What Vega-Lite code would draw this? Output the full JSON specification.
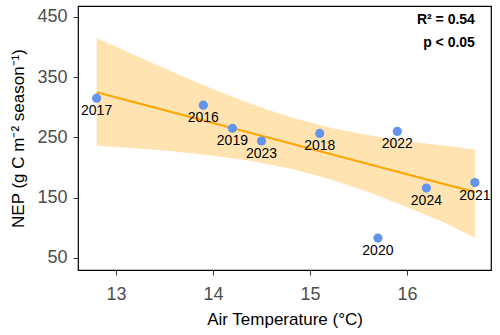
{
  "$schema": "https://vega.github.io/schema/vega-lite/v6.json",
  "width": 413,
  "height": 264,
  "autosize": {"type": "none"},
  "padding": {"left": 78, "top": 6, "right": 9, "bottom": 65},
  "background": "white",
  "config": {
    "font": "Liberation Sans",
    "view": {"stroke": "black", "strokeWidth": 1.2},
    "axis": {
      "grid": false,
      "domain": false,
      "tickColor": "#333333",
      "tickSize": 5,
      "labelColor": "#4D4D4D",
      "labelFontSize": 18,
      "titleColor": "black",
      "titleFontSize": 17,
      "titleFontWeight": "normal"
    }
  },
  "datasets": {
    "pts": [
      {"temp": 12.8, "nep": 315, "year": "2017"},
      {"temp": 13.9, "nep": 303.5, "year": "2016"},
      {"temp": 14.2, "nep": 265, "year": "2019"},
      {"temp": 14.5, "nep": 244, "year": "2023"},
      {"temp": 15.1, "nep": 256.6, "year": "2018"},
      {"temp": 15.9, "nep": 260, "year": "2022"},
      {"temp": 16.2, "nep": 166, "year": "2024"},
      {"temp": 16.7, "nep": 175, "year": "2021"},
      {"temp": 15.7, "nep": 83, "year": "2020"}
    ],
    "band": [
      {"temp": 12.8, "fit": 325.0, "lo": 236, "hi": 415},
      {"temp": 13.2, "fit": 308.0, "lo": 232, "hi": 386},
      {"temp": 13.6, "fit": 291.0, "lo": 226.6, "hi": 357.2},
      {"temp": 14.0, "fit": 274.0, "lo": 219.7, "hi": 330.1},
      {"temp": 14.4, "fit": 257.0, "lo": 210.7, "hi": 305.1},
      {"temp": 14.8, "fit": 240.0, "lo": 198.1, "hi": 283.5},
      {"temp": 15.2, "fit": 223.0, "lo": 181.1, "hi": 266.5},
      {"temp": 15.6, "fit": 206.0, "lo": 159.5, "hi": 253.9},
      {"temp": 16.0, "fit": 189.0, "lo": 134.5, "hi": 243},
      {"temp": 16.4, "fit": 172.0, "lo": 107.4, "hi": 236},
      {"temp": 16.7, "fit": 159.5, "lo": 83, "hi": 230}
    ],
    "notes": [
      {"temp": 16.7, "nep": 444, "label": "R² = 0.54"},
      {"temp": 16.7, "nep": 406, "label": "p < 0.05"}
    ]
  },
  "layer": [
    {
      "data": {"name": "band"},
      "mark": {"type": "area", "color": "orange", "opacity": 0.3},
      "encoding": {
        "x": {"field": "temp", "type": "quantitative", "scale": {"domain": [12.608, 16.866], "nice": false, "zero": false},
              "axis": {"values": [13, 14, 15, 16], "format": "d", "title": "Air Temperature (°C)", "labelPadding": 10, "titlePadding": 8}},
        "y": {"field": "lo", "type": "quantitative", "scale": {"domain": [30, 468], "nice": false, "zero": false},
              "axis": {"values": [50, 150, 250, 350, 450], "title": "NEP (g C m⁻² season⁻¹)", "labelPadding": 6, "titlePadding": 9}},
        "y2": {"field": "hi"}
      }
    },
    {
      "data": {"name": "band"},
      "mark": {"type": "line", "color": "#FFA500", "strokeWidth": 2},
      "encoding": {
        "x": {"field": "temp", "type": "quantitative"},
        "y": {"field": "fit", "type": "quantitative"}
      }
    },
    {
      "data": {"name": "pts"},
      "mark": {"type": "circle", "color": "#6495ED", "opacity": 1, "size": 85},
      "encoding": {
        "x": {"field": "temp", "type": "quantitative"},
        "y": {"field": "nep", "type": "quantitative"}
      }
    },
    {
      "data": {"name": "pts"},
      "mark": {"type": "text", "dy": 13, "fontSize": 14, "color": "black"},
      "encoding": {
        "x": {"field": "temp", "type": "quantitative"},
        "y": {"field": "nep", "type": "quantitative"},
        "text": {"field": "year"}
      }
    },
    {
      "data": {"name": "notes"},
      "mark": {"type": "text", "align": "right", "fontSize": 14, "fontWeight": "bold", "color": "black"},
      "encoding": {
        "x": {"field": "temp", "type": "quantitative"},
        "y": {"field": "nep", "type": "quantitative"},
        "text": {"field": "label"}
      }
    }
  ]
}
